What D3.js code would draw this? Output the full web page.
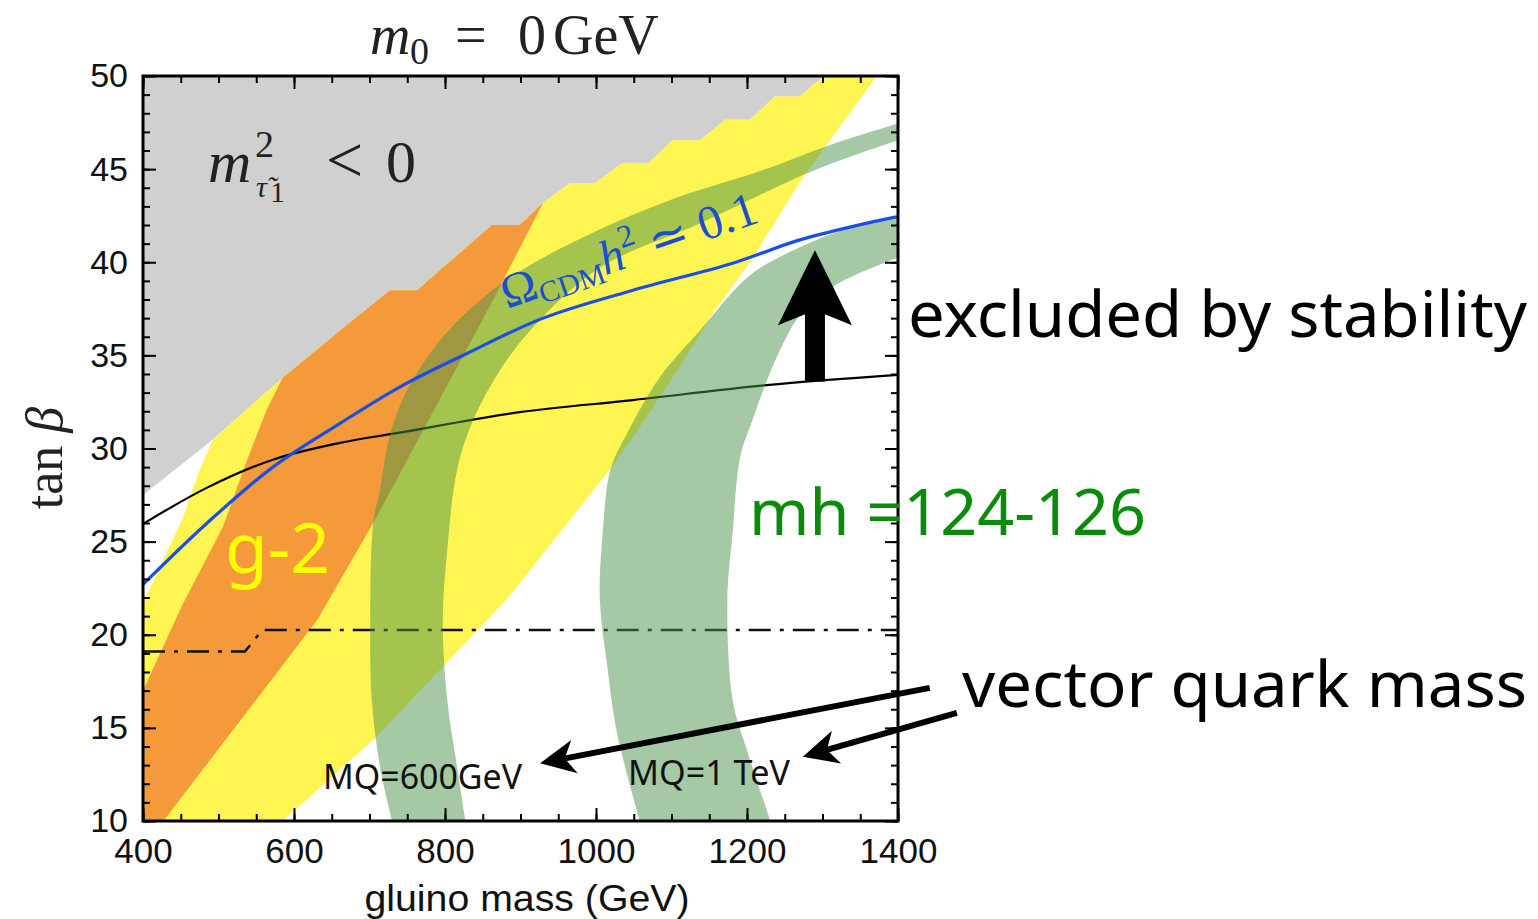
<!DOCTYPE html>
<html>
<head>
<meta charset="utf-8">
<script src="https://cdn.jsdelivr.net/npm/d3@7"></script>
<style>
  body { margin: 0; background: #fff; }
  svg { display: block; }
</style>
</head>
<body>
<svg id="chart" width="1538" height="919"></svg>
<script>
// axis ticks
var xTicks = [400, 600, 800, 1000, 1200, 1400];
var yTicks = [10, 15, 20, 25, 30, 35, 40, 45, 50];

// m_stau^2 < 0 boundary (staircase) : gluino mass (GeV) / tan beta
var stauMass = [400, 493, 585, 678, 727, 763, 862, 899, 930, 966, 999, 1034, 1069, 1101, 1138, 1171, 1204, 1237, 1270, 1302];
var stauTan  = [27.5, 30.5, 33.8, 36.9, 38.5, 38.5, 42.0, 42.0, 43.2, 44.25, 44.25, 45.3, 45.3, 46.55, 46.55, 47.65, 47.65, 48.9, 48.9, 50];

// g-2 wide band (yellow)
var g2wideLeftMass  = [400, 453, 475];
var g2wideLeftTan   = [21.7, 26.3, 28.85];
var g2wideRightMass = [585, 705, 882, 1018, 1058, 1111, 1158, 1204, 1270, 1310, 1372];
var g2wideRightTan  = [10, 14.35, 21.9, 28.85, 31.15, 34.4, 37.45, 40.0, 44.3, 46.55, 50];

// g-2 narrow band (orange)
var g2LeftMass  = [400, 452, 506, 538, 564];
var g2LeftTan   = [17.0, 21.6, 25.8, 29.4, 32.1];
var g2RightMass = [930, 864, 705, 631, 427];
var g2RightTan  = [43.2, 38.0, 26.0, 20.8, 10];

// mh = 124-126 bands, MQ = 600 GeV
var mq600OuterMass = [730, 714, 703, 701, 705, 714, 727, 747, 774, 811, 873, 956, 1089, 1221, 1310, 1400];
var mq600OuterTan  = [10, 12.9, 16.5, 20.8, 26.0, 27.8, 30.7, 32.9, 34.75, 36.6, 38.8, 40.8, 43.2, 44.95, 46.3, 47.45];
var mq600InnerMass = [827, 816, 803, 797, 803, 816, 837, 869, 913, 1005, 1138, 1290, 1400];
var mq600InnerTan  = [10, 12.9, 16.5, 20.8, 24.55, 28.85, 31.5, 33.95, 36.35, 39.7, 42.1, 44.95, 46.55];

// mh = 124-126 bands, MQ = 1 TeV
var mq1000OuterMass = [1058, 1028, 1015, 1005, 1009, 1019, 1041, 1085, 1138, 1204, 1270, 1336, 1400];
var mq1000OuterTan  = [10, 14.7, 18.3, 21.9, 25.5, 28.85, 30.8, 33.85, 36.35, 39.3, 40.8, 41.85, 42.45];
var mq1000InnerMass = [1231, 1200, 1181, 1174, 1181, 1191, 1207, 1224, 1244, 1270, 1314, 1400];
var mq1000InnerTan  = [10, 13.8, 16.5, 21.9, 25.5, 29.55, 31.5, 33.4, 35.3, 37.15, 38.7, 40.25];

// Omega_CDM h^2 ~ 0.1 (blue)
var relicMass = [400, 485, 572, 661, 740, 829, 930, 1049, 1181, 1270, 1359, 1400];
var relicTan  = [22.7, 26.0, 29.0, 31.35, 33.3, 35.1, 37.0, 38.5, 39.95, 41.2, 42.1, 42.45];

// vacuum stability bound (black)
var stabMass = [400, 485, 572, 661, 740, 899, 1049, 1226, 1400];
var stabTan  = [25.95, 27.9, 29.4, 30.3, 30.85, 31.95, 32.6, 33.4, 33.95];

// dash-dot line
var dashMass = [400, 535, 558, 1400];
var dashTan  = [19.1, 19.1, 20.25, 20.25];

// annotation arrows [tail, tip]
var stabilityArrow = [[1290, 33.6], [1290, 40.65]];
var mq600Arrow  = [[1442, 17.15], [926, 13.1]];
var mq1000Arrow = [[1478, 15.8], [1274, 13.45]];

function pts(ms, ts) { return ms.map(function(m, i) { return [m, ts[i]]; }); }

var svg = d3.select("#chart");
var x = d3.scaleLinear().domain([400, 1400]).range([143, 898]);
var y = d3.scaleLinear().domain([10, 50]).range([821, 76]);

var poly = d3.line().x(d => x(d[0])).y(d => y(d[1]));
var smooth = d3.line().x(d => x(d[0])).y(d => y(d[1])).curve(d3.curveCatmullRom.alpha(0.5));

function bandPath(outer, inner) {
  var a = smooth(outer), b = smooth(inner.slice().reverse());
  return a + "L" + b.slice(1) + "Z";
}

svg.append("clipPath").attr("id", "plotclip")
  .append("rect")
  .attr("x", x(400)).attr("y", y(50))
  .attr("width", x(1400) - x(400)).attr("height", y(10) - y(50));

var plot = svg.append("g").attr("clip-path", "url(#plotclip)");

var stau = pts(stauMass, stauTan);

// gray : stau tachyonic
plot.append("path")
  .attr("d", poly(stau.concat([[400, 50]])) + "Z")
  .attr("fill", "#d0d0d0");

// yellow
var yellow = [[400, 10]]
  .concat(pts(g2wideRightMass, g2wideRightTan))
  .concat(stau.slice(1).reverse())
  .concat(pts(g2wideLeftMass, g2wideLeftTan).reverse());
plot.append("path").attr("d", poly(yellow) + "Z").attr("fill", "#fff552");

// orange
var orange = pts(g2LeftMass, g2LeftTan)
  .concat(stau.slice(2, 9))
  .concat(pts(g2RightMass, g2RightTan))
  .concat([[400, 10]]);
plot.append("path").attr("d", poly(orange) + "Z").attr("fill", "#f49a3a");

// lines under the higgs bands
plot.append("path")
  .attr("d", poly(pts(dashMass, dashTan)))
  .attr("fill", "none").attr("stroke", "#111").attr("stroke-width", 2.5)
  .attr("stroke-dasharray", "22,9,4,9");

plot.append("path")
  .attr("d", smooth(pts(stabMass, stabTan)))
  .attr("fill", "none").attr("stroke", "#000").attr("stroke-width", 2.2);

// higgs mass bands
[[pts(mq600OuterMass, mq600OuterTan), pts(mq600InnerMass, mq600InnerTan)],
 [pts(mq1000OuterMass, mq1000OuterTan), pts(mq1000InnerMass, mq1000InnerTan)]]
  .forEach(function(b) {
    plot.append("path")
      .attr("d", bandPath(b[0], b[1]))
      .attr("fill", "#4a944a")
      .attr("fill-opacity", 0.5);
  });

// relic density line
plot.append("path")
  .attr("d", smooth(pts(relicMass, relicTan)))
  .attr("fill", "none").attr("stroke", "#1a4fe6").attr("stroke-width", 3.2);

// frame + inward ticks
var minorX = d3.range(400, 1401, 50);
var minorY = d3.range(10, 51, 1);

function tickStyle(g) {
  g.select(".domain").remove();
  g.selectAll("line").attr("stroke", "#000").attr("stroke-width", 2);
}

svg.append("g").attr("transform", "translate(0," + y(10) + ")")
  .call(d3.axisTop(x).tickValues(minorX).tickSize(7).tickFormat("")).call(tickStyle);
svg.append("g").attr("transform", "translate(0," + y(10) + ")")
  .call(d3.axisTop(x).tickValues(xTicks).tickSize(13).tickFormat("")).call(tickStyle);
svg.append("g").attr("transform", "translate(0," + y(50) + ")")
  .call(d3.axisBottom(x).tickValues(minorX).tickSize(7).tickFormat("")).call(tickStyle);
svg.append("g").attr("transform", "translate(0," + y(50) + ")")
  .call(d3.axisBottom(x).tickValues(xTicks).tickSize(13).tickFormat("")).call(tickStyle);
svg.append("g").attr("transform", "translate(" + x(400) + ",0)")
  .call(d3.axisRight(y).tickValues(minorY).tickSize(7).tickFormat("")).call(tickStyle);
svg.append("g").attr("transform", "translate(" + x(400) + ",0)")
  .call(d3.axisRight(y).tickValues(yTicks).tickSize(13).tickFormat("")).call(tickStyle);
svg.append("g").attr("transform", "translate(" + x(1400) + ",0)")
  .call(d3.axisLeft(y).tickValues(minorY).tickSize(7).tickFormat("")).call(tickStyle);
svg.append("g").attr("transform", "translate(" + x(1400) + ",0)")
  .call(d3.axisLeft(y).tickValues(yTicks).tickSize(13).tickFormat("")).call(tickStyle);

svg.append("rect")
  .attr("x", x(400)).attr("y", y(50))
  .attr("width", x(1400) - x(400)).attr("height", y(10) - y(50))
  .attr("fill", "none").attr("stroke", "#000").attr("stroke-width", 3);

// tick labels
var xAxisG = svg.append("g").attr("transform", "translate(0," + y(10) + ")")
  .call(d3.axisBottom(x).tickValues(xTicks).tickFormat(d3.format("d")).tickSize(0).tickPadding(17));
xAxisG.select(".domain").remove();
xAxisG.selectAll("text").attr("font-family", "Liberation Sans, Arial, sans-serif")
  .attr("font-size", 35).attr("fill", "#111");

var yAxisG = svg.append("g").attr("transform", "translate(" + x(400) + ",0)")
  .call(d3.axisLeft(y).tickValues(yTicks).tickFormat(d3.format("d")).tickSize(0).tickPadding(15));
yAxisG.select(".domain").remove();
yAxisG.selectAll("text").attr("font-family", "Liberation Sans, Arial, sans-serif")
  .attr("font-size", 34).attr("fill", "#111");

// axis titles
svg.append("text")
  .attr("x", 527).attr("y", 911)
  .attr("text-anchor", "middle")
  .attr("font-family", "Liberation Sans, Arial, sans-serif")
  .attr("font-size", 36).attr("fill", "#111")
  .attr("textLength", 325).attr("lengthAdjust", "spacingAndGlyphs")
  .text("gluino mass (GeV)");

var tanLabel = svg.append("text")
  .attr("transform", "translate(62,458) rotate(-90)")
  .attr("text-anchor", "middle")
  .attr("font-family", "Liberation Serif, DejaVu Serif, serif")
  .attr("font-size", 52).attr("fill", "#222");
tanLabel.append("tspan").text("tan ");
tanLabel.append("tspan").attr("font-style", "italic").text("β");

// title
var serif = "Liberation Serif, DejaVu Serif, serif";
var title = svg.append("text").attr("y", 54)
  .attr("font-family", serif).attr("font-size", 56).attr("fill", "#222");
title.append("tspan").attr("x", 370).attr("font-style", "italic").text("m");
title.append("tspan").attr("x", 410).attr("dy", 10).attr("font-size", 38).text("0");
title.append("tspan").attr("x", 455).attr("dy", -10).text("=");
title.append("tspan").attr("x", 518).text("0");
title.append("tspan").attr("x", 553).text("GeV");

// stau label
var stauLabel = svg.append("text").attr("y", 182)
  .attr("font-family", serif).attr("font-size", 60).attr("fill", "#222");
stauLabel.append("tspan").attr("x", 208).attr("font-style", "italic").text("m");
stauLabel.append("tspan").attr("x", 255).attr("dy", -25).attr("font-size", 38).text("2");
stauLabel.append("tspan").attr("x", 256).attr("dy", 40).attr("font-size", 30).attr("font-style", "italic").text("τ̃");
stauLabel.append("tspan").attr("x", 270).attr("dy", 5).attr("font-size", 30).text("1");
stauLabel.append("tspan").attr("x", 326).attr("dy", -20).attr("font-size", 66).text("<");
stauLabel.append("tspan").attr("x", 386).text("0");

// Omega label
var omega = svg.append("text")
  .attr("transform", "translate(507,309) rotate(-19)")
  .attr("font-family", serif).attr("font-size", 48).attr("fill", "#1a4fd0");
omega.append("tspan").text("Ω");
omega.append("tspan").attr("font-size", 30).attr("dy", 7).text("CDM");
omega.append("tspan").attr("font-style", "italic").attr("dy", -7).text("h");
omega.append("tspan").attr("font-size", 32).attr("dy", -20).text("2");
omega.append("tspan").attr("dy", 20).text(" ≃ 0.1");

// annotation text
var sans = "Noto Sans, Open Sans, sans-serif";
svg.append("text").attr("x", 225).attr("y", 573)
  .attr("font-family", sans).attr("font-size", 70).attr("fill", "#ffff00")
  .attr("textLength", 105).attr("lengthAdjust", "spacingAndGlyphs").text("g-2");

svg.append("text").attr("x", 908).attr("y", 337)
  .attr("font-family", sans).attr("font-size", 63).attr("fill", "#000")
  .attr("textLength", 619).attr("lengthAdjust", "spacingAndGlyphs").text("excluded by stability");

svg.append("text").attr("x", 749).attr("y", 535)
  .attr("font-family", sans).attr("font-size", 63).attr("fill", "#0a8c0a")
  .attr("textLength", 397).attr("lengthAdjust", "spacingAndGlyphs").text("mh =124-126");

svg.append("text").attr("x", 962).attr("y", 707)
  .attr("font-family", sans).attr("font-size", 63).attr("fill", "#000")
  .attr("textLength", 565).attr("lengthAdjust", "spacingAndGlyphs").text("vector quark mass");

svg.append("text").attr("x", 323).attr("y", 789)
  .attr("font-family", sans).attr("font-size", 35).attr("fill", "#111")
  .attr("textLength", 199).attr("lengthAdjust", "spacingAndGlyphs").text("MQ=600GeV");

svg.append("text").attr("x", 628).attr("y", 785)
  .attr("font-family", sans).attr("font-size", 35).attr("fill", "#111")
  .attr("textLength", 162).attr("lengthAdjust", "spacingAndGlyphs").text("MQ=1 TeV");

// arrows
function arrow(a, w, L, H, notch) {
  var x0 = x(a[0][0]), y0 = y(a[0][1]), x1 = x(a[1][0]), y1 = y(a[1][1]);
  var dx = x1 - x0, dy = y1 - y0, len = Math.hypot(dx, dy);
  var ux = dx / len, uy = dy / len, vx = -uy, vy = ux;
  var bx = x1 - ux * L, by = y1 - uy * L;
  var nx = x1 - ux * notch, ny = y1 - uy * notch;
  svg.append("line")
    .attr("x1", x0).attr("y1", y0)
    .attr("x2", nx + ux * 2).attr("y2", ny + uy * 2)
    .attr("stroke", "#000").attr("stroke-width", w);
  svg.append("path")
    .attr("d", "M" + x1 + "," + y1 +
      "L" + (bx + vx * H) + "," + (by + vy * H) +
      "L" + nx + "," + ny +
      "L" + (bx - vx * H) + "," + (by - vy * H) + "Z")
    .attr("fill", "#000");
}

arrow(stabilityArrow, 20, 75, 37, 60);
arrow(mq600Arrow, 6, 35, 17, 25);
arrow(mq1000Arrow, 6, 35, 17, 25);
</script>
</body>
</html>
